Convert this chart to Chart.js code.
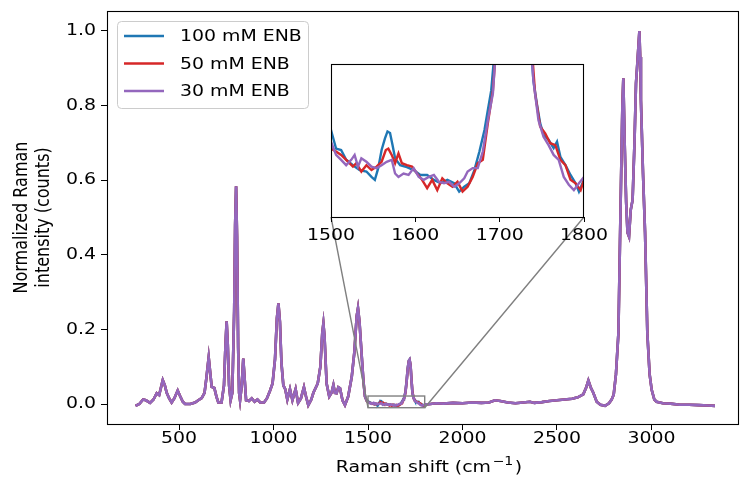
<!DOCTYPE html>
<html><head><meta charset="utf-8">
<script src="https://cdn.jsdelivr.net/npm/chart.js@4.4.0/dist/chart.umd.min.js"></script>
<style>
html,body{margin:0;padding:0;background:#fff;}
#wrap{position:relative;width:740px;height:488px;overflow:hidden;}
#main{position:absolute;left:0;top:0;}
#inset{position:absolute;left:300px;top:40px;}
</style></head><body>
<div id="wrap"><canvas id="main" width="740" height="488"></canvas><canvas id="inset" width="320" height="230"></canvas></div>
<script>
// ---------- data ----------
const seriesNames = ['100 mM ENB', '50 mM ENB', '30 mM ENB'];
const seriesColors = ['#1f77b4', '#d62728', '#9467bd'];

// shared part of the spectrum below 1500 cm-1
const mainLeftX = [
270,290,310,325,347,365,382,395,405,414,
425,435,448,461,475,493,505,520,532,560,
585,602,620,635,645,657,665,673,687,698,
708,725,738,746,752,758,765,773,782,792,
797,802,807,813,818,823,832,840,847,855,
870,885,900,915,930,950,965,981,995,1008,
1018,1026,1034,1042,1052,1062,1073,1087,1100,1117,
1130,1145,1161,1172,1184,1200,1211,1234,1248,1258,
1264,1270,1281,1295,1307,1317,1325,1334,1343,1352,
1365,1378,1395,1414,1428,1440,1447,1455,1467,1476,
1484,1494];
const mainLeftY = [
-0.005,0.000,0.012,0.010,0.003,0.012,0.029,0.024,0.045,0.064,
0.050,0.030,0.015,0.004,0.015,0.036,0.022,0.006,0.000,0.000,
0.004,0.010,0.016,0.030,0.070,0.125,0.085,0.046,0.043,0.020,
0.004,0.004,0.050,0.160,0.222,0.160,0.050,0.010,0.030,0.250,
0.480,0.584,0.450,0.150,0.030,0.010,0.050,0.122,0.070,0.010,
0.008,0.015,0.006,0.012,0.004,0.004,0.015,0.035,0.055,0.120,
0.230,0.270,0.220,0.110,0.050,0.040,0.012,0.040,0.010,0.040,
0.003,0.015,0.045,0.020,-0.003,0.012,0.030,0.055,0.100,0.190,
0.216,0.180,0.055,0.020,0.030,0.051,0.030,0.029,0.045,0.042,
0.010,-0.003,0.020,0.073,0.140,0.235,0.257,0.220,0.127,0.060,
0.020,0.008];

// shared part of the spectrum above 1800 cm-1
const mainRightX = [
1806,1830,1860,1900,1950,2000,2050,2100,2140,2172,
2200,2240,2280,2320,2357,2380,2420,2460,2500,2540,
2580,2610,2639,2655,2666,2678,2692,2710,2730,2754,
2775,2789,2800,2812,2825,2837,2846,2851,2858,2866,
2873,2881,2890,2900,2910,2918,2926,2931,2936,2940,
2944,2955,2966,2978,2990,3001,3015,3027,3060,3100,
3150,3200,3250,3300,3336];
const mainRightY = [
-0.001,0.000,0.002,0.001,0.003,0.002,0.004,0.003,0.004,0.010,
0.008,0.004,0.002,0.004,0.006,0.003,0.005,0.008,0.010,0.012,
0.014,0.018,0.026,0.045,0.063,0.045,0.030,0.006,-0.002,-0.005,
0.002,0.012,0.025,0.080,0.190,0.547,0.800,0.873,0.700,0.540,
0.460,0.449,0.520,0.547,0.700,0.860,0.920,0.960,1.000,0.930,
0.815,0.620,0.458,0.190,0.080,0.038,0.012,0.006,0.002,0.001,
-0.002,-0.002,-0.003,-0.004,-0.005];

// per-series detail 1500-1800 cm-1 (shown in the inset)
const insetX100 = [
1500,1506,1512,1518,1526,1534,1542,1548,1552,1556,
1560,1564,1567,1570,1573,1576,1582,1590,1598,1606,
1614,1622,1630,1638,1646,1652,1658,1664,1670,1676,
1682,1686,1690,1698,1704,1710,1716,1720,1725,1730,
1735,1740,1744,1748,1752,1758,1764,1768,1772,1778,
1784,1790,1794,1800];
const insetY100 = [
0.0079,0.0041,0.0038,0.0018,0.0007,-0.0003,-0.0006,-0.0017,-0.0023,0.0001,
0.0038,0.0062,0.0076,0.0073,0.0048,0.0021,0.0007,0.0003,-0.0003,-0.0013,
-0.0013,-0.0023,-0.0030,-0.0023,-0.0030,-0.0047,-0.0037,-0.0030,-0.0003,0.0035,
0.0079,0.0120,0.0160,0.032,0.060,0.095,0.116,0.119,0.105,0.065,
0.030,0.0180,0.0134,0.0093,0.0069,0.0059,0.0042,0.0055,0.0024,0.0007,
-0.0013,-0.0030,-0.0047,-0.0023];
const insetX50 = [
1500,1506,1512,1518,1526,1530,1536,1542,1548,1554,
1560,1565,1568,1572,1576,1580,1584,1590,1596,1602,
1608,1614,1620,1626,1632,1638,1644,1650,1656,1662,
1668,1674,1680,1686,1692,1698,1704,1710,1716,1720,
1725,1730,1735,1742,1748,1754,1760,1766,1772,1778,
1784,1790,1796,1800];
const insetY50 = [
0.0041,0.0035,0.0028,0.0018,0.0004,0.0011,-0.0006,0.0007,-0.0003,0.0004,
0.0014,0.0038,0.0041,0.0028,0.0011,0.0031,0.0011,0.0007,0.0004,-0.0010,
-0.0023,-0.0040,-0.0023,-0.0044,-0.0020,-0.0030,-0.0037,-0.0027,-0.0047,-0.0037,
-0.0017,0.0011,0.0018,0.0093,0.0160,0.030,0.058,0.093,0.115,0.118,
0.104,0.066,0.032,0.0154,0.0086,0.0072,0.0052,0.0048,0.0018,0.0007,
-0.0023,-0.0030,-0.0044,-0.0023];
const insetX30 = [
1500,1506,1512,1518,1524,1528,1532,1536,1542,1548,
1554,1560,1566,1572,1576,1580,1586,1592,1598,1604,
1610,1616,1622,1628,1634,1640,1646,1652,1658,1662,
1668,1674,1680,1686,1692,1698,1704,1710,1716,1720,
1725,1730,1735,1740,1746,1752,1758,1764,1770,1776,
1782,1788,1794,1800];
const insetY30 = [
0.0055,0.0028,0.0018,0.0007,0.0018,0.0028,0.0004,0.0021,0.0014,0.0004,
0.0001,0.0007,0.0014,0.0018,-0.0010,-0.0017,-0.0010,-0.0013,0.0001,-0.0017,
-0.0023,-0.0017,-0.0013,-0.0027,-0.0030,-0.0027,-0.0037,-0.0030,-0.0020,-0.0006,
0.0001,0.0001,0.0035,0.0099,0.0154,0.031,0.059,0.094,0.116,0.119,
0.104,0.064,0.031,0.0180,0.0099,0.0065,0.0048,0.0028,0.0018,-0.0017,
-0.0033,-0.0044,-0.0030,-0.0017];

const xTickValues = [500, 1000, 1500, 2000, 2500, 3000];
const yTickValues = [0.0, 0.2, 0.4, 0.6, 0.8, 1.0];
const insetXTickValues = [1500, 1600, 1700, 1800];
const xTitle = ['Raman shift (cm', '\u22121', ')'];
const yTitle = ['Normalized Raman', 'intensity (counts)'];
const mainXRange = [119, 3463];
const mainYRange = [-0.0536, 1.0536];
const insetXRange = [1500, 1800];
const insetYRange = [-0.0099, 0.0214];

// ---------- helpers ----------
const FONT = 'DejaVu Sans';
const FS = 16;        // font size
const SX = 1.18;      // horizontal glyph stretch of the original figure
Chart.defaults.font.family = FONT;
Chart.defaults.color = '#000';

function pts(xs, ys) { return xs.map((x, i) => ({ x: x, y: ys[i] })); }
const insetXs = [insetX100, insetX50, insetX30];
const insetYs = [insetY100, insetY50, insetY30];
function fullSeries(k) {
  return pts(mainLeftX, mainLeftY).concat(pts(insetXs[k], insetYs[k]), pts(mainRightX, mainRightY));
}
function datasets(lw) {
  return [0, 1, 2].map(k => ({
    label: seriesNames[k], data: fullSeries(k), borderColor: seriesColors[k],
    borderWidth: lw, pointRadius: 0, tension: 0, fill: false, order: 3 - k
  }));
}
function txt(ctx, s, x, y, align, rot, size) {
  ctx.save();
  ctx.translate(x, y);
  if (rot) { ctx.rotate(-Math.PI / 2); ctx.scale(1, SX); } else { ctx.scale(SX, 1); }
  ctx.font = (size || FS) + 'px "' + FONT + '"';
  ctx.textAlign = align; ctx.textBaseline = 'middle'; ctx.fillStyle = '#000';
  ctx.fillText(s, 0, 0);
  ctx.restore();
}
function tw(ctx, s, size) { ctx.save(); ctx.font = (size || FS) + 'px "' + FONT + '"'; const w = ctx.measureText(s).width * SX; ctx.restore(); return w; }
function tickSetter(vals) { return function (scale) { scale.ticks = vals.map(v => ({ value: v })); }; }

const framePlugin = {
  id: 'frame',
  beforeDraw(c) {
    const ctx = c.ctx, a = c.chartArea;
    ctx.save(); ctx.fillStyle = '#fff';
    if (c.canvas.id === 'main') ctx.fillRect(0, 0, c.width, c.height);
    else ctx.fillRect(a.left, a.top, a.right - a.left, a.bottom - a.top);
    ctx.restore();
  },
  afterDraw(c) {
    const ctx = c.ctx, a = c.chartArea;
    ctx.save(); ctx.strokeStyle = '#000'; ctx.lineWidth = 1.1;
    ctx.strokeRect(Math.round(a.left) + 0.5, Math.round(a.top) + 0.5,
      Math.round(a.right - a.left) - 1, Math.round(a.bottom - a.top));
    ctx.restore();
  }
};

const insetTextPlugin = {
  id: 'insetText',
  afterDraw(c) {
    const ctx = c.ctx, xs = c.scales.x, a = c.chartArea;
    insetXTickValues.forEach(v => txt(ctx, String(v), xs.getPixelForValue(v), a.bottom + 19, 'center'));
  }
};

const insetChart = new Chart(document.getElementById('inset'), {
  type: 'line',
  data: { datasets: datasets(2.4) },
  options: {
    responsive: false, animation: false, devicePixelRatio: 1,
    layout: { padding: { left: 31, right: 36, top: 24, bottom: 23 } },
    plugins: { legend: { display: false }, tooltip: { enabled: false } },
    scales: {
      x: {
        type: 'linear', min: insetXRange[0], max: insetXRange[1],
        afterBuildTicks: tickSetter(insetXTickValues),
        afterFit(s) { s.height = 30; },
        border: { display: false },
        grid: { drawOnChartArea: false, drawTicks: true, tickLength: 5, color: '#000', lineWidth: 1 },
        ticks: { display: false }
      },
      y: { type: 'linear', display: false, min: insetYRange[0], max: insetYRange[1] }
    }
  },
  plugins: [framePlugin, insetTextPlugin]
});

const overlayPlugin = {
  id: 'overlay',
  afterDatasetsDraw(c) {
    const ctx = c.ctx, xs = c.scales.x, ys = c.scales.y;
    const x1 = xs.getPixelForValue(insetXRange[0]), x2 = xs.getPixelForValue(insetXRange[1]);
    const y1 = ys.getPixelForValue(insetYRange[1]), y2 = ys.getPixelForValue(insetYRange[0]);
    const ia = insetChart.chartArea;
    const off = { x: 300, y: 40 };
    ctx.save();
    ctx.strokeStyle = '#808080'; ctx.lineWidth = 1.4;
    ctx.strokeRect(x1, y1, x2 - x1, y2 - y1);
    ctx.beginPath();
    ctx.moveTo(x1, y2); ctx.lineTo(off.x + ia.left, off.y + ia.bottom);
    ctx.moveTo(x2, y2); ctx.lineTo(off.x + ia.right, off.y + ia.bottom);
    ctx.stroke();
    ctx.restore();
  },
  afterDraw(c) {
    const ctx = c.ctx, xs = c.scales.x, ys = c.scales.y, a = c.chartArea;
    // tick labels
    xTickValues.forEach(v => txt(ctx, String(v), xs.getPixelForValue(v), a.bottom + 15, 'center'));
    yTickValues.forEach(v => txt(ctx, v.toFixed(1), 96, ys.getPixelForValue(v), 'right'));
    // x title with superscript
    const SUP = 12;
    const w0 = tw(ctx, xTitle[0]), w1 = tw(ctx, xTitle[1], SUP) + 3, w2 = tw(ctx, xTitle[2]);
    let tx = 429 - (w0 + w1 + w2) / 2, ty = 468;
    txt(ctx, xTitle[0], tx, ty, 'left'); tx += w0;
    txt(ctx, xTitle[1], tx + 1.5, ty - 6, 'left', false, SUP); tx += w1;
    txt(ctx, xTitle[2], tx, ty, 'left');
    // y title
    const cy = (a.top + a.bottom) / 2;
    txt(ctx, yTitle[0], 22, cy, 'center', true);
    txt(ctx, yTitle[1], 44, cy, 'center', true);
    // legend
    ctx.save();
    const bx = 117.5, by = 21.5, bw = 191, bh = 87, r = 4;
    ctx.beginPath();
    ctx.moveTo(bx + r, by); ctx.lineTo(bx + bw - r, by); ctx.quadraticCurveTo(bx + bw, by, bx + bw, by + r);
    ctx.lineTo(bx + bw, by + bh - r); ctx.quadraticCurveTo(bx + bw, by + bh, bx + bw - r, by + bh);
    ctx.lineTo(bx + r, by + bh); ctx.quadraticCurveTo(bx, by + bh, bx, by + bh - r);
    ctx.lineTo(bx, by + r); ctx.quadraticCurveTo(bx, by, bx + r, by);
    ctx.closePath();
    ctx.fillStyle = 'rgba(255,255,255,0.8)'; ctx.fill();
    ctx.strokeStyle = '#cccccc'; ctx.lineWidth = 1; ctx.stroke();
    const rows = [36, 63.5, 91];
    for (let k = 0; k < 3; k++) {
      ctx.strokeStyle = seriesColors[k]; ctx.lineWidth = 2.4;
      ctx.beginPath(); ctx.moveTo(124, rows[k]); ctx.lineTo(164, rows[k]); ctx.stroke();
      txt(ctx, seriesNames[k], 180, rows[k] + 1, 'left');
    }
    ctx.restore();
  }
};

const mainChart = new Chart(document.getElementById('main'), {
  type: 'line',
  data: { datasets: datasets(2.6) },
  options: {
    responsive: false, animation: false, devicePixelRatio: 1,
    layout: { padding: { left: 0, right: 1, top: 11, bottom: 0 } },
    plugins: { legend: { display: false }, tooltip: { enabled: false } },
    scales: {
      x: {
        type: 'linear', min: mainXRange[0], max: mainXRange[1],
        afterBuildTicks: tickSetter(xTickValues),
        afterFit(s) { s.height = 64; },
        border: { display: false },
        grid: { drawOnChartArea: false, drawTicks: true, tickLength: 6, color: '#000', lineWidth: 1 },
        ticks: { display: false }
      },
      y: {
        type: 'linear', min: mainYRange[0], max: mainYRange[1],
        afterBuildTicks: tickSetter(yTickValues),
        afterFit(s) { s.width = 107; },
        border: { display: false },
        grid: { drawOnChartArea: false, drawTicks: true, tickLength: 6, color: '#000', lineWidth: 1 },
        ticks: { display: false }
      }
    }
  },
  plugins: [framePlugin, overlayPlugin]
});
</script>
</body></html>
